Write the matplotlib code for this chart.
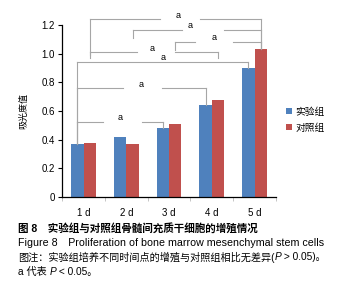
import numpy as np
import matplotlib
matplotlib.use("Agg")
import matplotlib.pyplot as plt

plt.rcParams['font.family'] = ['Liberation Sans', 'Noto Sans CJK SC']

days = ["1 d", "2 d", "3 d", "4 d", "5 d"]
exp_group = [0.37, 0.42, 0.48, 0.64, 0.90]
ctrl_group = [0.378, 0.37, 0.51, 0.68, 1.035]
series_names = ["实验组", "对照组"]
colors = ["#4f81bd", "#c0504d"]

# significance brackets: (day, series) -> (day, series), level, leg ends, label x, gap in line
brackets = [
    ((0, 1), (4, 1), 1.24, 0.99, None, 2.21, (1.79, 2.72)),
    ((1, 1), (4, 1), 1.165, 1.107, None, 2.49, (2.30, 3.29)),
    ((2, 1), (4, 1), 1.084, 1.026, None, 3.05, (2.61, 3.50)),
    ((0, 1), (3, 1), 1.01, 0.97, 0.97, 1.60, (1.25, 2.14)),
    ((0, 0), (4, 0), 0.944, None, None, 1.86, None),
    ((0, 0), (3, 0), 0.759, None, None, 1.35, (0.93, 1.84)),
    ((0, 0), (2, 0), 0.525, None, None, 0.86, (0.46, 1.37)),
]

fig = plt.figure(figsize=(3.59, 2.99), dpi=100)
ax = fig.add_axes([0.173, 0.341, 0.596, 0.575])

x = np.arange(len(days))
w = 0.29
data = [exp_group, ctrl_group]
for k in range(2):
    ax.bar(x + (k - 0.5) * w, data[k], width=w, color=colors[k], label=series_names[k])

ax.set_xlim(-0.5, len(days) - 0.5)
ax.set_ylim(0, 1.2)
ax.set_yticks([0, 0.2, 0.4, 0.6, 0.8, 1.0, 1.2])
ax.set_yticklabels(["0", "0.2", "0.4", "0.6", "0.8", "1.0", "1.2"], fontsize=7)
ax.set_xticks(x)
ax.set_xticklabels(days, fontsize=7)
ax.set_xticks(np.arange(-0.5, len(days)), minor=True)
ax.tick_params(axis='x', which='major', length=0, pad=8)
ax.tick_params(axis='x', which='minor', length=3, direction='out', color='#bbbbbb')
ax.tick_params(axis='y', length=3, direction='out', pad=2)
for s in ['top', 'right']:
    ax.spines[s].set_visible(False)
ax.spines['left'].set_linewidth(0.9)
ax.spines['bottom'].set_linewidth(0.9)
ax.set_ylabel("吸光度值", fontsize=6.5, labelpad=10)

gray = "#a6a6a6"
def bar_pos(d, s):
    return x[d] + (s - 0.5) * w, data[s][d]

for a, b, lev, lend, rend, lx, gap in brackets:
    x0, y0 = bar_pos(*a)
    x1, y1 = bar_pos(*b)
    lb = y0 if lend is None else lend
    rb = y1 if rend is None else rend
    kw = dict(color=gray, lw=0.8, clip_on=False)
    ax.plot([x0, x0], [lb, lev], **kw)
    ax.plot([x1, x1], [rb, lev], **kw)
    if gap is None:
        ax.plot([x0, x1], [lev, lev], **kw)
    else:
        ax.plot([x0, gap[0]], [lev, lev], **kw)
        ax.plot([gap[1], x1], [lev, lev], **kw)
    ax.text(lx, lev + 0.03, "a", fontsize=6.5, ha='center', va='center', clip_on=False)

ax.legend(loc='center left', bbox_to_anchor=(1.03, 0.45), frameon=False, fontsize=7,
          handlelength=0.6, handleheight=0.6, handletextpad=0.3, labelspacing=0.6,
          borderaxespad=0)

# caption, written piece by piece so the italic P sits inline
renderer = fig.canvas.get_renderer()
def caption_line(y, parts, size):
    xpos = 0.05
    for s, style, weight in parts:
        t = fig.text(xpos, y, s, fontsize=size, style=style, fontweight=weight, va='center')
        bb = t.get_window_extent(renderer)
        xpos = fig.transFigure.inverted().transform((bb.x1, 0))[0]

caption_line(0.237, [("图 8　实验组与对照组骨髓间充质干细胞的增殖情况", 'normal', 'bold')], 7.6)
caption_line(0.187, [("Figure 8　Proliferation of bone marrow mesenchymal stem cells", 'normal', 'normal')], 7.7)
caption_line(0.140, [("图注：实验组培养不同时间点的增殖与对照组相比无差异(", 'normal', 'normal'),
                     ("P", 'italic', 'normal'),
                     (" > 0.05)。", 'normal', 'normal')], 7.3)
caption_line(0.090, [("a 代表 ", 'normal', 'normal'),
                     ("P", 'italic', 'normal'),
                     (" < 0.05。", 'normal', 'normal')], 7.3)

fig.savefig("out.png", dpi=100)
